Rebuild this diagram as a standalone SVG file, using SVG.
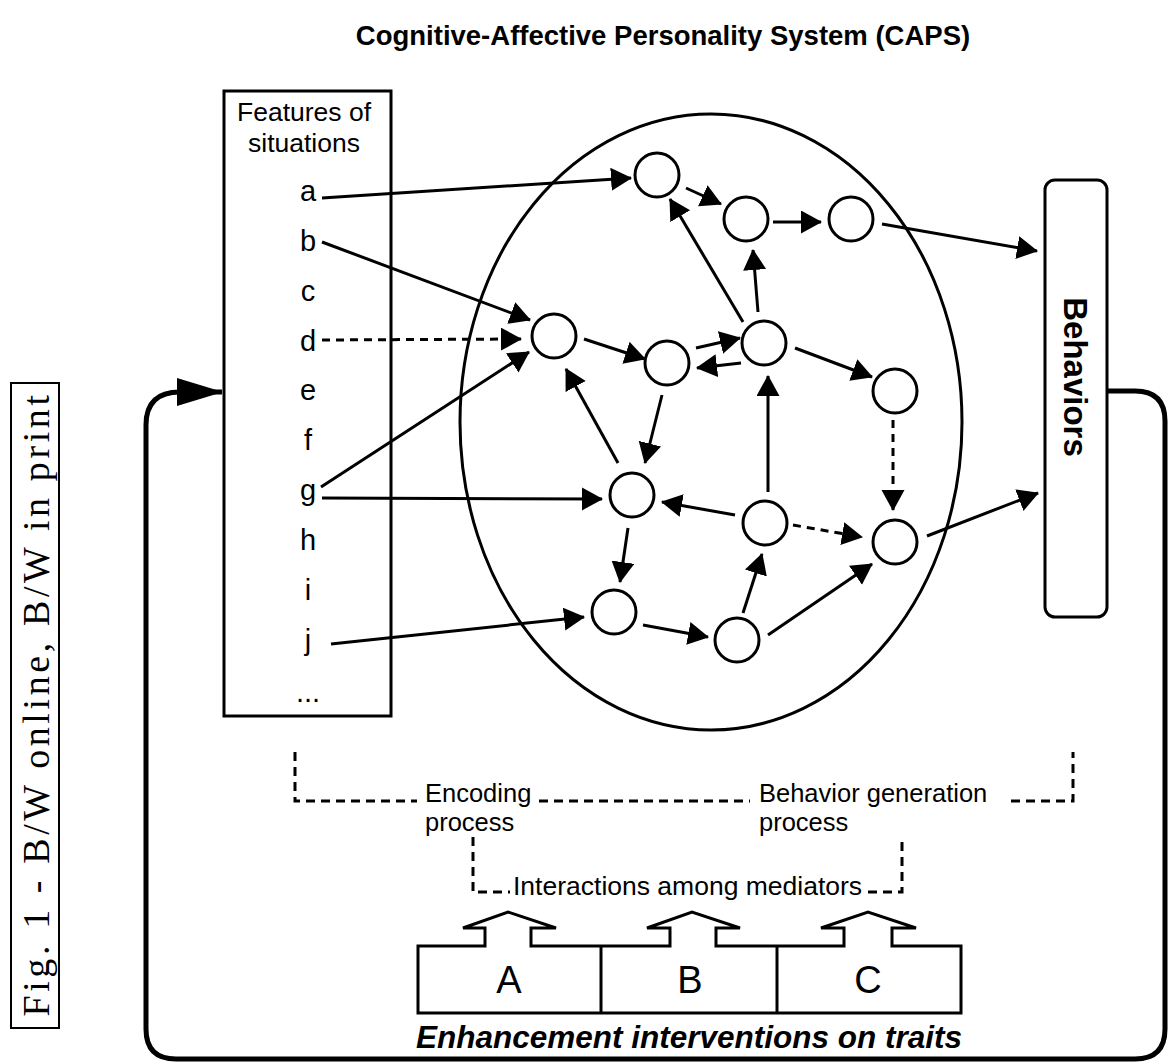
<svg xmlns="http://www.w3.org/2000/svg" width="1171" height="1064" viewBox="0 0 1171 1064">
<style>
.t{font-family:"Liberation Sans",Arial,sans-serif;fill:#000}
.ln{stroke:#000;stroke-width:3;fill:none}
.c{stroke:#000;stroke-width:3;fill:none;marker-end:url(#ah)}
.dash{stroke-dasharray:8 6}
.bd{stroke:#000;stroke-width:3;fill:none;stroke-dasharray:9 6}
.nd{stroke:#000;stroke-width:3;fill:#fff}
.lb{font-size:25.5px}
</style>
<defs>
<marker id="ah" markerUnits="userSpaceOnUse" markerWidth="22" markerHeight="24" viewBox="0 0 22 24" refX="20" refY="11.5" orient="auto">
<path d="M0,0 L21,11.5 L0,23 Z" fill="#000"/>
</marker>
<marker id="bigah" markerUnits="userSpaceOnUse" markerWidth="46" markerHeight="30" viewBox="0 0 46 30" refX="45" refY="14" orient="auto">
<path d="M0,0 L46,14 L0,28 Z" fill="#000"/>
</marker>
</defs>
<rect width="1171" height="1064" fill="#fff"/>

<text class="t" x="663" y="45" font-size="27.5" font-weight="bold" text-anchor="middle">Cognitive-Affective Personality System (CAPS)</text>

<g id="caption">
<rect x="11" y="383" width="48" height="645" fill="none" stroke="#000" stroke-width="2"/>
<text transform="translate(49,704) rotate(-90)" font-family="'Liberation Serif','Times New Roman',serif" font-size="38" letter-spacing="3.6" text-anchor="middle">Fig. 1 - B/W online, B/W in print</text>
</g>

<g id="feedback">
<path d="M1107,391 H1135 Q1165,391 1165,421 V1029 Q1165,1059 1135,1059 H176 Q146,1059 146,1029 V425 Q146,392 180,392 H222" stroke="#000" stroke-width="5" fill="none" marker-end="url(#bigah)"/>
</g>

<g id="features">
<rect x="224" y="91" width="167" height="625" fill="#fff" stroke="#000" stroke-width="3"/>
<text class="t" x="304" y="121" font-size="26.5" text-anchor="middle">Features of</text>
<text class="t" x="304" y="152" font-size="26.5" text-anchor="middle">situations</text>
<g class="t" font-size="29" text-anchor="middle">
<text x="308" y="201">a</text>
<text x="308" y="251">b</text>
<text x="308" y="301">c</text>
<text x="308" y="351">d</text>
<text x="308" y="400">e</text>
<text x="308" y="450">f</text>
<text x="308" y="500">g</text>
<text x="308" y="550">h</text>
<text x="308" y="600">i</text>
<text x="308" y="650">j</text>
<text x="308" y="702">...</text>
</g>
</g>

<g id="caps">
<ellipse cx="711" cy="422" rx="251" ry="308" class="ln"/>
</g>

<g id="behaviors">
<rect x="1045" y="180" width="62" height="437" rx="10" fill="#fff" stroke="#000" stroke-width="3"/>
<text class="t" transform="translate(1064,377) rotate(90)" font-size="33" font-weight="bold" text-anchor="middle">Behaviors</text>
</g>

<g id="connectors">
<line class="c" x1="322" y1="198" x2="631" y2="178"/>
<line class="c" x1="322" y1="242" x2="530" y2="320"/>
<line class="c dash" x1="322" y1="340" x2="521" y2="339"/>
<line class="c" x1="321" y1="487" x2="529" y2="352"/>
<line class="c" x1="322" y1="498" x2="602" y2="499"/>
<line class="c" x1="331" y1="644" x2="584" y2="617"/>
<line class="c" x1="686" y1="188" x2="721" y2="204"/>
<line class="c" x1="773" y1="222" x2="821" y2="222"/>
<line class="c" x1="882" y1="224" x2="1037" y2="251"/>
<line class="c" x1="743" y1="322" x2="670" y2="199"/>
<line class="c" x1="758" y1="312" x2="753" y2="250"/>
<line class="c" x1="584" y1="339" x2="645" y2="359"/>
<line class="c" x1="696" y1="348" x2="740" y2="338"/>
<line class="c" x1="741" y1="363" x2="697" y2="368"/>
<line class="c" x1="795" y1="348" x2="872" y2="377"/>
<line class="c" x1="618" y1="463" x2="566" y2="369"/>
<line class="c" x1="662" y1="395" x2="645" y2="463"/>
<line class="c" x1="768" y1="492" x2="768" y2="376"/>
<line class="c dash" x1="893" y1="420" x2="893" y2="510"/>
<line class="c" x1="735" y1="515" x2="662" y2="502"/>
<line class="c dash" x1="793" y1="525" x2="862" y2="537"/>
<line class="c" x1="927" y1="536" x2="1038" y2="493"/>
<line class="c" x1="628" y1="528" x2="620" y2="582"/>
<line class="c" x1="643" y1="625" x2="708" y2="637"/>
<line class="c" x1="743" y1="613" x2="762" y2="554"/>
<line class="c" x1="768" y1="635" x2="872" y2="564"/>
</g>

<g id="nodes">
<circle id="n1" class="nd" cx="657" cy="175" r="22"/>
<circle id="n2" class="nd" cx="746" cy="219" r="22"/>
<circle id="n3" class="nd" cx="851" cy="219" r="22"/>
<circle id="n4" class="nd" cx="554" cy="336" r="22"/>
<circle id="n5" class="nd" cx="667" cy="363" r="22"/>
<circle id="n6" class="nd" cx="764" cy="343" r="22"/>
<circle id="n7" class="nd" cx="895" cy="391" r="22"/>
<circle id="n8" class="nd" cx="632" cy="495" r="22"/>
<circle id="n9" class="nd" cx="765" cy="523" r="22"/>
<circle id="n10" class="nd" cx="895" cy="542" r="22"/>
<circle id="n11" class="nd" cx="614" cy="612" r="22"/>
<circle id="n12" class="nd" cx="737" cy="640" r="22"/>
</g>

<g id="processes">
<path class="bd" d="M295,752 V801 H417"/>
<path class="bd" d="M539,801 H750"/>
<path class="bd" d="M1011,801 H1073 V752"/>
<text class="t lb" x="425" y="802">Encoding</text>
<text class="t lb" x="425" y="831">process</text>
<text class="t lb" x="759" y="802">Behavior generation</text>
<text class="t lb" x="759" y="831">process</text>
<path class="bd" d="M473,837 V892 H510"/>
<path class="bd" d="M868,892 H902 V837"/>
<text class="t" x="513" y="895" font-size="26.5">Interactions among mediators</text>
</g>

<g id="interventions">
<path d="M418,946 H485 V928 H463 L508,912 L556,928 H531 V946 H670 V928 H647 L692,912 L740,928 H716 V946 H844 V928 H821 L868,912 L916,928 H892 V946 H961 V1013 H418 Z" fill="#fff" stroke="#000" stroke-width="3"/>
<line class="ln" x1="601" y1="946" x2="601" y2="1013"/>
<line class="ln" x1="777" y1="946" x2="777" y2="1013"/>
<text class="t" x="509" y="993" font-size="38" text-anchor="middle">A</text>
<text class="t" x="690" y="993" font-size="38" text-anchor="middle">B</text>
<text class="t" x="868" y="993" font-size="38" text-anchor="middle">C</text>
<text class="t" x="689" y="1048" font-size="31.5" font-weight="bold" font-style="italic" text-anchor="middle">Enhancement interventions on traits</text>
</g>
</svg>
